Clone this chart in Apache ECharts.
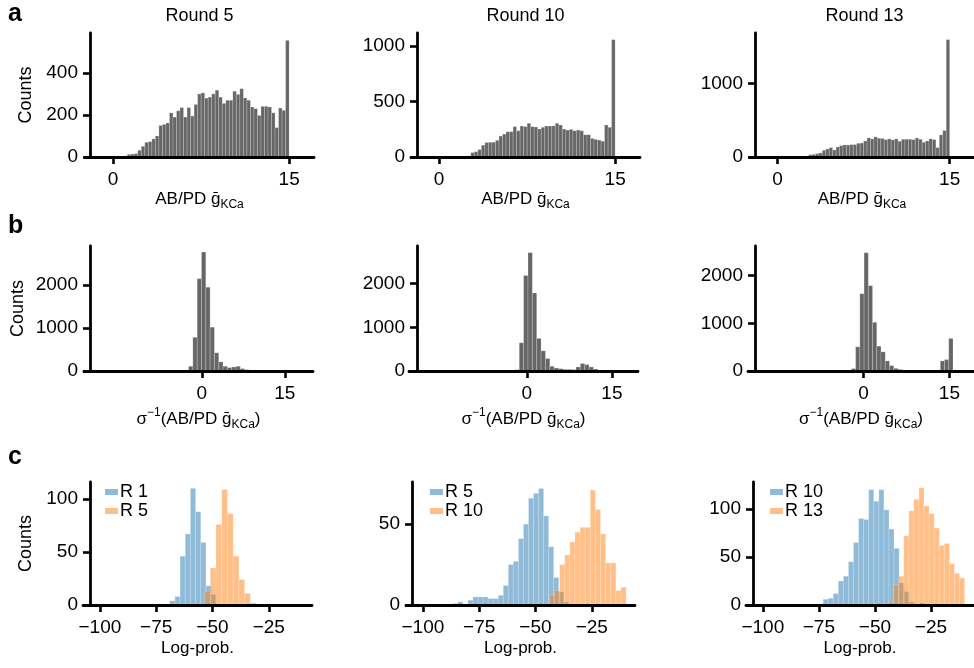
<!DOCTYPE html>
<html>
<head>
<meta charset="utf-8">
<script src="https://cdn.jsdelivr.net/npm/echarts@6/dist/echarts.min.js"></script>
<style>
  html, body { margin: 0; padding: 0; background: #fff; }
  #chart { width: 974px; height: 668px; }
</style>
</head>
<body>
<div id="chart"></div>
<script>
// Posterior samples of the AB/PD maximal KCa conductance over inference rounds:
// a) constrained values, b) unconstrained (sigma^-1) values, c) log-probabilities.

const roundTitles = ['Round 5', 'Round 10', 'Round 13'];

// Row a: 50 bins spanning [0, 15]
const gBinStart = 0;
const gBinWidth = 0.3;
const gCountsRound5 = [0,0,0,4,12,14,16,32,51,70, 73,86,100,150,155,162,210,190,220,235,
  190,235,195,250,300,305,280,285,300,318, 285,255,270,270,313,298,325,281,270,238,
  230,198,241,241,238,210,140,233,222,555];
const gCountsRound10 = [0,0,0,2,3,4,6,8,10,40, 48,67,106,130,132,133,150,188,206,227,
  228,273,236,279,273,303,273,270,252,267, 279,279,280,303,288,252,242,248,236,242,
  236,200,200,167,158,152,142,288,267,1055];
const gCountsRound13 = [0,0,0,3,5,7,9,12,14,30, 36,46,55,91,110,128,96,137,155,164,
  164,169,169,187,190,219,260,247,274,256, 251,237,247,233,247,215,242,242,242,237,
  260,242,201,219,247,237,128,301,361,1600];

// Row b: histograms in unconstrained space
const zBinStartRound5 = -2.4,  zBinWidthRound5 = 0.78;
const zCountsRound5 = [110,785,2150,2770,1950,1020,424,212,110,78,94,110,55,31,12,6];
const zBinStartRound10 = -2.12, zBinWidthRound10 = 0.77;
const zCountsRound10 = [30,646,2185,2708,1785,746,461,285,108,70,54,38,38,31,92,170,146,92,46,20];
const zBinStartRound13 = -2.13, zBinWidthRound13 = 0.74;
const zCountsRound13 = [50,507,1620,2479,1789,1021,521,401,211,113,56,35,15,6,3,0,0,0,0,0,0,211,239,683];

// Row c: log-probability histograms, earlier round vs later round
const lpStartR1a = -69.0,  lpWidthR1a = 2.3;
const lpCountsR1a = [4,8,46,67,110,88,59,18,10];
const lpStartR5a = -53.5,  lpWidthR5a = 2.54;
const lpCountsR5a = [13,35,76,109,86,46,24,11,2];
const lpStartR5b = -86.7,  lpWidthR5b = 2.24;
const lpCountsR5b = [1,2,0,3,5,5,5,4,4,6,12,25,27,41,50,66,69,72,55,36,17,8,2];
const lpStartR10b = -43.8, lpWidthR10b = 2.27;
const lpCountsR10b = [6,9,25,31,39,45,48,48,71,59,44,26,26,9,11];
const lpStartR10c = -73.1, lpWidthR10c = 2.26;
const lpCountsR10c = [6,7,12,25,30,45,65,90,89,120,108,120,99,79,59,23,14,3,0,2];
const lpStartR13c = -43.9, lpWidthR13c = 2.26;
const lpCountsR13c = [3,21,30,72,98,110,122,103,95,80,62,64,43,33,28];

// Tick values
const gTicks = [0, 15];
const zTicks = [0, 15];
const lpTicks = [-100, -75, -50, -25];
const countTicksA = [[0, 200, 400], [0, 500, 1000], [0, 1000]];
const countTicksB = [[0, 1000, 2000], [0, 1000, 2000], [0, 1000, 2000]];
const countTicksC = [[0, 50, 100], [0, 50], [0, 50, 100]];

const FONT = "'Liberation Sans', Arial, Helvetica, sans-serif";
const GRAY = '#666666';
const BLUE = 'rgba(31,119,180,0.5)';
const ORANGE = 'rgba(255,127,14,0.5)';
const PANEL_W = 229;

// Panel frames (pixels) and axis extents
const frames = [
  { top: 33,  height: 124, left: 85,  xMin: -2.4,   xMax: 17.12, yMax: 590,  shift: 5, xTicks: gTicks,  yTicks: countTicksA[0] },
  { top: 33,  height: 124, left: 411, xMin: -2.4,   xMax: 17.12, yMax: 1115, shift: 6, xTicks: gTicks,  yTicks: countTicksA[1] },
  { top: 33,  height: 124, left: 750, xMin: -2.4,   xMax: 17.12, yMax: 1690, shift: 5, xTicks: gTicks,  yTicks: countTicksA[2] },
  { top: 246, height: 125, left: 84,  xMin: -21.3,  xMax: 20.1,  yMax: 2910, shift: 6, xTicks: zTicks,  yTicks: countTicksB[0] },
  { top: 246, height: 125, left: 409, xMin: -20.8,  xMax: 19.6,  yMax: 2860, shift: 8, xTicks: zTicks,  yTicks: countTicksB[1] },
  { top: 246, height: 125, left: 748, xMin: -20.2,  xMax: 19.3,  yMax: 2620, shift: 7, xTicks: zTicks,  yTicks: countTicksB[2] },
  { top: 482, height: 123, left: 83,  xMin: -107.5, xMax: -5.8,  yMax: 116,  shift: 7, xTicks: lpTicks, yTicks: countTicksC[0] },
  { top: 482, height: 123, left: 406, xMin: -107.5, xMax: -5.8,  yMax: 76,   shift: 6, xTicks: lpTicks, yTicks: countTicksC[1] },
  { top: 482, height: 123, left: 746, xMin: -107.5, xMax: -5.8,  yMax: 128,  shift: 7, xTicks: lpTicks, yTicks: countTicksC[2] }
];

const nameRich = {
  m: { fontSize: 17, lineHeight: 24, verticalAlign: 'middle', fontFamily: FONT, color: '#000' },
  s: { fontSize: 12, lineHeight: 12, verticalAlign: 'bottom', fontFamily: FONT, color: '#000' },
  p: { fontSize: 12, lineHeight: 10, verticalAlign: 'top', fontFamily: FONT, color: '#000' }
};
const xNames = [
  '{m|AB/PD \u1E21}{s|KCa}',
  '{m|\u03C3}{p|\u22121}{m|(AB/PD \u1E21}{s|KCa}{m|)}',
  '{m|Log-prob.}'
];
const xNameGaps = [30, 36, 31];
const yNameGaps = [55, 63, 55];

// Plain numbers, with a typographic minus sign for negatives
const plainFmt = v => String(v).replace('-', '\u2212');

function binsToData(start, width, counts) {
  return counts.map((c, i) => [start + i * width, start + (i + 1) * width, c]);
}

function renderBin(params, api) {
  const topLeft = api.coord([api.value(0), api.value(2)]);
  const baseRight = api.coord([api.value(1), 0]);
  return {
    type: 'rect',
    shape: { x: topLeft[0], y: topLeft[1], width: baseRight[0] - topLeft[0], height: baseRight[1] - topLeft[1] },
    style: api.style({ stroke: 'rgba(255,255,255,0.35)', lineWidth: 0.6 })
  };
}

function histSeries(name, idx, start, width, counts, color) {
  return {
    type: 'custom', name, coordinateSystem: 'cartesian2d',
    xAxisIndex: idx, yAxisIndex: idx,
    renderItem: renderBin, encode: { x: [0, 1], y: 2 },
    itemStyle: { color }, silent: true, z: 2,
    data: binsToData(start, width, counts)
  };
}

const axisLine = { show: true, onZero: false, lineStyle: { color: '#000', width: 2.8 } };
const tickLine = { color: '#000', width: 2.6 };

const grids = frames.map(f => ({ left: f.left, top: f.top, width: PANEL_W, height: f.height }));

const xAxes = frames.map((f, i) => {
  const row = Math.floor(i / 3);
  return {
    type: 'value', gridIndex: i, min: f.xMin, max: f.xMax, z: 5,
    name: xNames[row], nameLocation: 'middle', nameGap: xNameGaps[row],
    nameTextStyle: { rich: nameRich, fontFamily: FONT, fontSize: 17, color: '#000' },
    axisLine,
    axisTick: { show: true, length: 7, lineStyle: tickLine, customValues: f.xTicks },
    axisLabel: { customValues: f.xTicks, formatter: plainFmt, margin: 13, fontSize: 19, fontFamily: FONT, color: '#000' },
    splitLine: { show: false }
  };
});

const yAxes = frames.map((f, i) => {
  const row = Math.floor(i / 3), col = i % 3;
  return {
    type: 'value', gridIndex: i, min: 0, max: f.yMax, z: 5, offset: -f.shift,
    name: col === 0 ? 'Counts' : '', nameLocation: 'middle', nameGap: yNameGaps[row], nameRotate: 90,
    nameTextStyle: { fontSize: 18, fontFamily: FONT, color: '#000' },
    axisLine,
    axisTick: { show: true, length: 7, lineStyle: tickLine, customValues: f.yTicks },
    axisLabel: { customValues: f.yTicks, formatter: plainFmt, margin: 12, fontSize: 19, fontFamily: FONT, color: '#000' },
    splitLine: { show: false }
  };
});

const series = [
  histSeries('Round 5', 0, gBinStart, gBinWidth, gCountsRound5, GRAY),
  histSeries('Round 10', 1, gBinStart, gBinWidth, gCountsRound10, GRAY),
  histSeries('Round 13', 2, gBinStart, gBinWidth, gCountsRound13, GRAY),
  histSeries('Round 5 unconstrained', 3, zBinStartRound5, zBinWidthRound5, zCountsRound5, GRAY),
  histSeries('Round 10 unconstrained', 4, zBinStartRound10, zBinWidthRound10, zCountsRound10, GRAY),
  histSeries('Round 13 unconstrained', 5, zBinStartRound13, zBinWidthRound13, zCountsRound13, GRAY),
  histSeries('R 1 vs R 5: R 1', 6, lpStartR1a, lpWidthR1a, lpCountsR1a, BLUE),
  histSeries('R 1 vs R 5: R 5', 6, lpStartR5a, lpWidthR5a, lpCountsR5a, ORANGE),
  histSeries('R 5 vs R 10: R 5', 7, lpStartR5b, lpWidthR5b, lpCountsR5b, BLUE),
  histSeries('R 5 vs R 10: R 10', 7, lpStartR10b, lpWidthR10b, lpCountsR10b, ORANGE),
  histSeries('R 10 vs R 13: R 10', 8, lpStartR10c, lpWidthR10c, lpCountsR10c, BLUE),
  histSeries('R 10 vs R 13: R 13', 8, lpStartR13c, lpWidthR13c, lpCountsR13c, ORANGE)
];

function legendFor(names, left) {
  return {
    data: names, left, top: 483, orient: 'vertical', padding: 0,
    itemWidth: 13, itemHeight: 6, itemGap: 1, icon: 'rect', selectedMode: false,
    formatter: n => n.split(': ')[1],
    textStyle: { fontSize: 18, fontFamily: FONT, color: '#000', padding: [0, 0, 0, -3] }
  };
}

const legends = [
  legendFor(['R 1 vs R 5: R 1', 'R 1 vs R 5: R 5'], 105),
  legendFor(['R 5 vs R 10: R 5', 'R 5 vs R 10: R 10'], 430),
  legendFor(['R 10 vs R 13: R 10', 'R 10 vs R 13: R 13'], 770)
];

function label(text, x, y, size, weight, align) {
  return {
    type: 'text', x, y, silent: true,
    style: { text, fontSize: size, fontWeight: weight, fontFamily: FONT, fill: '#000', align, verticalAlign: 'middle' }
  };
}

const graphics = [
  label('a', 8, 14, 25, 'bold', 'left'),
  label('b', 8, 226, 25, 'bold', 'left'),
  label('c', 8, 457, 25, 'bold', 'left'),
  ...roundTitles.map((t, i) => label(t, frames[i].left + PANEL_W / 2, 16, 18, 'normal', 'center'))
];

const chart = echarts.init(document.getElementById('chart'), null, { renderer: 'canvas' });
chart.setOption({
  animation: false,
  backgroundColor: '#fff',
  grid: grids,
  xAxis: xAxes,
  yAxis: yAxes,
  legend: legends,
  graphic: graphics,
  series
});
</script>
</body>
</html>
